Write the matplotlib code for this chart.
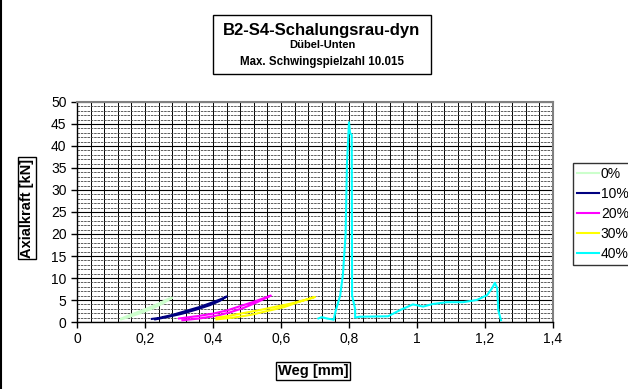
import matplotlib
matplotlib.use('Agg')
import matplotlib.pyplot as plt
from matplotlib.ticker import MultipleLocator, FuncFormatter
from matplotlib.patches import Rectangle
from matplotlib.lines import Line2D

plt.rcParams['font.family'] = ['Liberation Sans', 'DejaVu Sans']

############################# data ##################################

labels = ['0%', '10%', '20%', '30%', '40%']
colors = ['#ccffcc', '#000080', '#ff00ff', '#ffff00', '#00ffff']

# 0 % - load + unload loop
x_0 = [0.13, 0.16, 0.19, 0.22, 0.25, 0.28, 0.27, 0.24, 0.21, 0.18, 0.15, 0.13]
y_0 = [0.6, 1.3, 2.1, 3.0, 4.1, 5.5, 5.3, 4.2, 3.2, 2.3, 1.4, 0.8]

# 10 %
x_10 = [0.23, 0.27, 0.31, 0.35, 0.39, 0.42, 0.44, 0.43, 0.40, 0.36, 0.32, 0.28, 0.24, 0.22]
y_10 = [0.6, 1.2, 1.9, 2.8, 3.8, 4.8, 5.8, 5.4, 4.5, 3.4, 2.5, 1.6, 0.9, 0.7]

# 20 %
x_20 = [0.31, 0.36, 0.41, 0.45, 0.49, 0.53, 0.57, 0.56, 0.52, 0.48, 0.44, 0.40, 0.36, 0.32, 0.30]
y_20 = [0.4, 0.8, 1.4, 2.2, 3.2, 4.5, 6.0, 5.7, 4.6, 3.6, 2.6, 1.9, 1.4, 1.0, 0.8]

# 30 %
x_30 = [0.41, 0.46, 0.51, 0.56, 0.61, 0.65, 0.70, 0.68, 0.63, 0.58, 0.53, 0.48, 0.44, 0.41]
y_30 = [0.6, 1.0, 1.6, 2.5, 3.4, 4.5, 5.7, 5.2, 4.2, 3.4, 2.6, 1.9, 1.3, 1.0]

# 40 %
x_40 = [0.71, 0.72, 0.735, 0.75, 0.755, 0.76, 0.774, 0.782, 0.79, 0.794, 0.80, 0.803,
        0.808, 0.809, 0.818, 0.818, 0.83, 0.915, 0.95, 0.988, 1.018, 1.047, 1.088,
        1.135, 1.176, 1.206, 1.221, 1.229, 1.236, 1.239, 1.247]
y_40 = [0.8, 1.1, 0.8, 0.6, 0.5, 2.3, 6.0, 10.7, 19.8, 36.0, 45.4, 43.0,
        42.5, 6.0, 3.0, 1.0, 1.2, 1.3, 2.7, 4.0, 3.5, 4.1, 4.5,
        4.5, 5.0, 6.1, 7.7, 8.9, 7.7, 2.7, 0.4]

series_x = [x_0, x_10, x_20, x_30, x_40]
series_y = [y_0, y_10, y_20, y_30, y_40]

title = 'B2-S4-Schalungsrau-dyn'
sub1 = 'Dübel-Unten'
sub2 = 'Max. Schwingspielzahl 10.015'

############################# plot ##################################

W, H = 628, 389
fig = plt.figure(figsize=(W/100, H/100), dpi=100)
ax = fig.add_axes([77/W, 1-322/H, (553-77)/W, (322-102)/H])

for xs, ys, c, lab in zip(series_x, series_y, colors, labels):
    ax.plot(xs, ys, color=c, lw=1.5, label=lab, zorder=3)

ax.set_xlim(0, 1.4)
ax.set_ylim(0, 50)
ax.xaxis.set_major_locator(MultipleLocator(0.2))
ax.xaxis.set_minor_locator(MultipleLocator(0.04))
ax.yaxis.set_major_locator(MultipleLocator(5))
ax.yaxis.set_minor_locator(MultipleLocator(1))
ax.xaxis.set_major_formatter(FuncFormatter(lambda v, p: ('%g' % round(v, 2)).replace('.', ',')))
ax.grid(which='major', axis='y', color='black', lw=0.8)
ax.grid(which='minor', axis='y', color='#444444', lw=0.6, ls=(0, (3, 1)))
ax.grid(which='both', axis='x', color='black', lw=0.7)
ax.set_axisbelow(True)
ax.tick_params(which='minor', length=0)
ax.tick_params(which='major', direction='out', length=4, width=1, labelsize=10, colors='black')
for s in ['top', 'right']:
    ax.spines[s].set_color('#808080')
    ax.spines[s].set_linewidth(1.5)
for s in ['left', 'bottom']:
    ax.spines[s].set_color('black')
    ax.spines[s].set_linewidth(1.0)

boxstyle = dict(boxstyle='square,pad=0.12', fc='white', ec='black', lw=1.0)
fig.text(27/W, 1-208/H, 'Axialkraft [kN]', rotation=90, ha='center', va='center',
         fontsize=10.5, fontweight='bold', bbox=boxstyle)
fig.text(313/W, 1-371/H, 'Weg [mm]', ha='center', va='center',
         fontsize=10.5, fontweight='bold', bbox=boxstyle)

# title box
fig.patches.append(Rectangle((213/W, 1-74/H), (431-213)/W, (74-15)/H, transform=fig.transFigure,
                             fill=False, ec='black', lw=1.0))
fig.text(322/W, 1-30/H, title, ha='center', va='center', fontsize=12, fontweight='bold')
fig.text(322/W, 1-45/H, sub1, ha='center', va='center', fontsize=8, fontweight='bold')
fig.text(322/W, 1-62/H, sub2, ha='center', va='center', fontsize=8.3, fontweight='bold')

leg = fig.legend(loc='upper left', bbox_to_anchor=(573/W, 1-163/H), fontsize=10,
                 frameon=True, fancybox=False, edgecolor='black', handlelength=1.6,
                 handletextpad=0.1, labelspacing=0.42, borderpad=0.3, borderaxespad=0)
leg.get_frame().set_linewidth(1.0)

# chart border on the left edge
fig.add_artist(Line2D([1/W, 1/W], [0, 1], transform=fig.transFigure, color='black', lw=1.5))

fig.savefig('out.png', dpi=100)
